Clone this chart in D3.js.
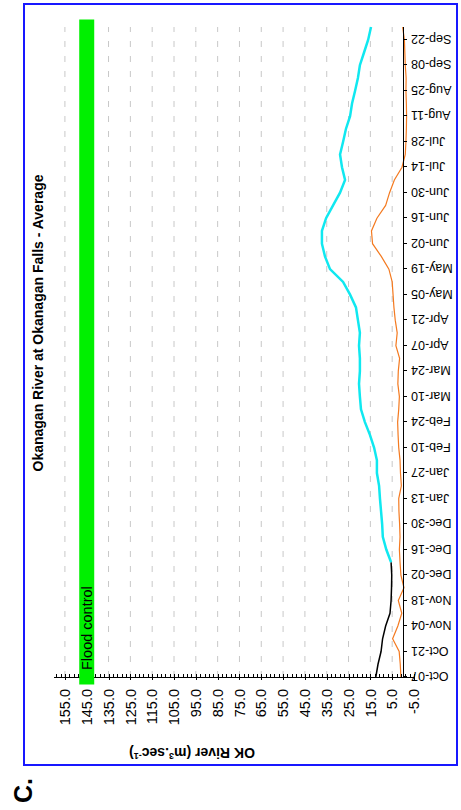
<!DOCTYPE html>
<html>
<head>
	<title>Okanagan River at Okanagan Falls - Average</title>
	<meta charset="utf-8">
	<script src="https://cdnjs.cloudflare.com/ajax/libs/d3/7.8.5/d3.min.js"></script>
	<style>
	body { margin: 0; background: #fff; }
	svg { display: block; font-family: "Liberation Sans", Arial, sans-serif; }
	.grid line { stroke: #c8c8c8; stroke-dasharray: 6,9; }
	.axis path, .axis line { stroke: #000; shape-rendering: crispEdges; }
	.line { fill: none; }
	</style>
</head>

<body>
<svg id="chart" width="461" height="810"></svg>

<script type="text/javascript">

  // biweekly date labels (every second weekly point)
  var dateLabels = ["Oct-07","Oct-21","Nov-04","Nov-18","Dec-02","Dec-16","Dec-30","Jan-13","Jan-27",
    "Feb-10","Feb-24","Mar-10","Mar-24","Apr-07","Apr-21","May-05","May-19","Jun-02","Jun-16",
    "Jun-30","Jul-14","Jul-28","Aug-11","Aug-25","Sep-08","Sep-22"];

  // weekly series, 52 points (null = no data)
  var blackFlow = [12.5, 11.5, 10.1, 9.4, 8.0, 6.0, 5.5, 5.3, 5.2, 5.5];

  var cyanFlow = [null, null, null, null, null, null, null, null, null,
    5.5, 7.7, 9.3, 9.6, 10.1, 10.6, 11, 12, 12, 13.3, 15.2, 17.5, 19.3, 19.8, 20.2, 19.8,
    19.8, 20.2, 19.8, 20.7, 21.6, 24.3, 27.5, 33.5, 35.8, 37.2, 37.2, 35.3, 32.1, 28.9, 26.6,
    28, 28.9, 27.5, 26.2, 24.3, 23.4, 22, 20.7, 19.8, 17.9, 16, 14.7];

  var orangeFlow = [1.0, 1.3, 1.8, 4.8, 2.4, 0.6, 2.2, -0.4, 1.0, 1.4, 1.7, 1.4, 1.6, 1.9, 2.0,
    0.8, 1.2, 1.4, 2.0, 2.3, 2.5, 2.0, 1.7, 2.4, 2.2, 1.6, 3.3, 2.7, 3.6, 4.2, 4.6, 5.0, 6.5,
    10, 14, 14.5, 12, 8, 6.2, 4, 0.5, -1.0, -1.3, -1.5, -1.6, -1.5, -1.3, -1.4, -1.0, -0.8, -0.6, 0.2];

  var floodControl = 145;
  var nWeeks = 52;
  var majorTicks = d3.range(-5, 156, 10);
  var minorTicks = d3.range(-5, 161, 2);

  var svg = d3.select("svg");

  // whole chart is drawn in a normal frame, then turned -90 degrees
  var g = svg.append("g").attr("transform", "translate(0,810) rotate(-90)");

  var x = d3.scaleLinear().domain([0, nWeeks - 1]).range([133, 783]),
      y = d3.scaleLinear().domain([-5, 160]).range([414, 54]);

  // border
  g.append("rect")
    .attr("x", 45).attr("y", 24)
    .attr("width", 761).attr("height", 433)
    .attr("fill", "none")
    .attr("stroke", "#1818ff")
    .attr("stroke-width", 2);

  // grid
  g.append("g").attr("class", "grid")
    .selectAll("line")
    .data(majorTicks.filter(function(d) { return d > 0; }))
    .enter().append("line")
    .attr("x1", x(0)).attr("x2", x(nWeeks - 1))
    .attr("y1", function(d) { return y(d); })
    .attr("y2", function(d) { return y(d); });

  var line = d3.line()
    .defined(function(d) { return d != null; })
    .x(function(d, i) { return x(i); })
    .y(function(d) { return y(d); });

  g.append("path").datum(orangeFlow)
    .attr("class", "line")
    .attr("stroke", "#f47a20")
    .attr("stroke-width", 1.2)
    .attr("d", line);

  g.append("path").datum(blackFlow)
    .attr("class", "line")
    .attr("stroke", "#000")
    .attr("stroke-width", 1.5)
    .attr("d", line);

  g.append("path").datum(cyanFlow)
    .attr("class", "line")
    .attr("stroke", "#10e8f0")
    .attr("stroke-width", 2.5)
    .attr("d", line);

  // date axis at zero
  var xAxis = g.append("g")
    .attr("class", "axis")
    .attr("transform", "translate(0," + y(0) + ")")
    .call(d3.axisBottom(x)
      .tickValues(d3.range(0, nWeeks, 2))
      .tickSize(4)
      .tickSizeOuter(0)
      .tickFormat(function(d) { return dateLabels[d / 2]; }));

  xAxis.selectAll("text")
    .attr("transform", "rotate(-90)")
    .attr("x", -8)
    .attr("y", 0)
    .attr("dy", "0.35em")
    .style("text-anchor", "end")
    .style("font-size", "12.5px")
    .style("font-family", "Liberation Sans, Arial, sans-serif");

  // value axis: minor ticks inside, major ticks crossing
  g.append("g")
    .attr("class", "axis")
    .attr("transform", "translate(" + x(0) + ",0)")
    .call(d3.axisRight(y).tickValues(minorTicks).tickSize(3).tickFormat(""))
    .select(".domain").remove();

  var yAxis = g.append("g")
    .attr("class", "axis")
    .attr("transform", "translate(" + x(0) + ",0)")
    .call(d3.axisLeft(y)
      .tickValues(majorTicks)
      .tickSize(3)
      .tickSizeOuter(0)
      .tickPadding(9)
      .tickFormat(function(d) { return d.toFixed(1); }));

  yAxis.select(".domain").attr("d", "M0," + y(160) + "V" + y(-5));
  yAxis.selectAll(".tick line").attr("x2", 3).attr("x1", -3);
  yAxis.selectAll("text")
    .style("font-size", "14.5px")
    .style("font-family", "Liberation Sans, Arial, sans-serif");

  // flood control bar, drawn over grid and axis
  g.append("line")
    .attr("x1", x(0)).attr("x2", x(nWeeks - 1))
    .attr("y1", y(floodControl)).attr("y2", y(floodControl))
    .attr("stroke", "#00f000")
    .attr("stroke-width", 15)
    .attr("stroke-linecap", "square");

  g.append("text")
    .attr("x", x(0) + 7)
    .attr("y", y(floodControl) + 5)
    .style("font-size", "14.5px")
    .text("Flood control");

  // titles
  g.append("text")
    .attr("x", 487)
    .attr("y", 43)
    .style("text-anchor", "middle")
    .style("font-weight", "bold")
    .style("font-size", "14px")
    .text("Okanagan River at Okanagan Falls - Average");

  var yTitle = g.append("text")
    .attr("transform", "translate(62,192) rotate(-90)")
    .style("text-anchor", "middle")
    .style("font-weight", "bold")
    .style("font-size", "14px");
  yTitle.append("tspan").text("OK River (m");
  yTitle.append("tspan").attr("baseline-shift", "super").style("font-size", "9px").text("3");
  yTitle.append("tspan").text(".sec");
  yTitle.append("tspan").attr("baseline-shift", "super").style("font-size", "9px").text("-1");
  yTitle.append("tspan").text(")");

  g.append("text")
    .attr("x", 7)
    .attr("y", 32)
    .style("font-weight", "bold")
    .style("font-size", "25px")
    .text("C.");

</script>

</body>
</html>
